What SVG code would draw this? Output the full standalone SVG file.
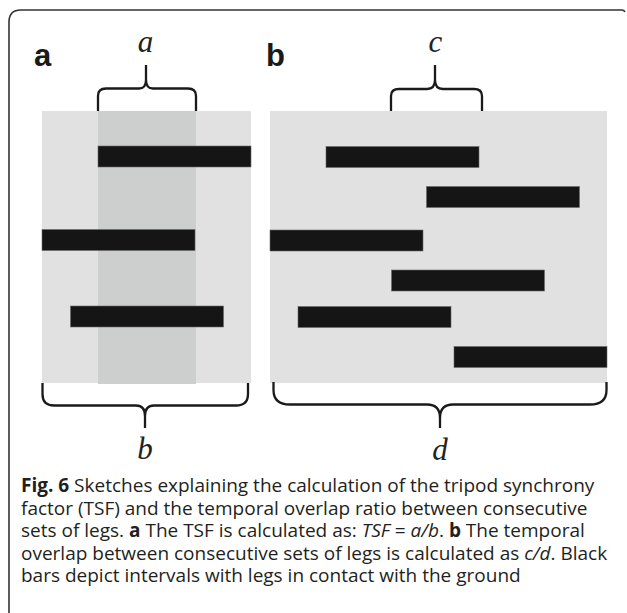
<svg xmlns="http://www.w3.org/2000/svg" width="627" height="613" viewBox="0 0 627 613">
<style>
.bg{fill:#e1e1e1}
.col{fill:#cdcfce}
.bar{fill:#151515;stroke:#6a6a6a;stroke-width:0.6}
.brace{fill:none;stroke:#1a1a1a;stroke-width:2.3;stroke-linejoin:round;stroke-linecap:butt}
.var{font-family:"Liberation Serif","DejaVu Serif",serif;font-style:italic;font-size:31px;fill:#222;text-anchor:middle}
.lbl{font-family:"Liberation Sans",Arial,sans-serif;font-weight:bold;font-size:31px;fill:#1a1a1a}
.cap{font-family:"Open Sans","Noto Sans",sans-serif;font-size:19px;fill:#231f20}
.b{font-weight:bold}
.i{font-style:italic}
</style>
<rect width="627" height="613" fill="#fff"/>
<path id="frame" d="M9,613 V22 Q9,10 21,10 H622 Q624,10 625,12" fill="none" stroke="#333" stroke-width="1.6"/>

<g id="panel-a">
<rect class="bg" x="42" y="111" width="209" height="272"/>
<rect class="col" x="98" y="111" width="98" height="273"/>
<rect class="bar" x="98" y="146" width="153" height="21"/>
<rect class="bar" x="42" y="229.5" width="153" height="21"/>
<rect class="bar" x="70.5" y="306" width="153" height="21"/>
<text class="lbl" x="34" y="66">a</text>
</g>

<g id="panel-b">
<rect class="bg" x="270" y="111" width="337" height="272"/>
<rect class="bar" x="326" y="146.5" width="153" height="21"/>
<rect class="bar" x="426.5" y="186.5" width="153" height="21"/>
<rect class="bar" x="270" y="230" width="153" height="21"/>
<rect class="bar" x="391.5" y="270" width="153" height="21"/>
<rect class="bar" x="298" y="306.5" width="153" height="21"/>
<rect class="bar" x="454" y="346.5" width="153" height="21"/>
<text class="lbl" x="266" y="66">b</text>
</g>

<g id="braces">
<path id="brace-a" class="brace" d="M98,111 V96 Q98,88.5 106,88.5 H139 Q146,88.5 146,80 V65 M146,80 Q146,88.5 153,88.5 H188 Q196,88.5 196,96 V111"/>
<path id="brace-c" class="brace" d="M391,111 V96 Q391,89 399,89 H427 Q435,89 435,80 V65 M435,80 Q435,89 443,89 H474 Q482,89 482,96 V111"/>
<path id="brace-b" class="brace" d="M42.5,383 V394 Q42.5,405.5 54,405.5 H136 Q145,405.5 145,416 V428 M145,416 Q145,405.5 154,405.5 H236 Q248,405.5 248,394 V383"/>
<path id="brace-d" class="brace" d="M273.5,382 V390 Q273.5,404.5 290,404.5 H427 Q440,404.5 440,418 V428 M440,418 Q440,404.5 453,404.5 H590 Q606.5,404.5 606.5,390 V382"/>
</g>

<g id="labels">
<text class="var" x="145.5" y="51.5">a</text>
<text class="var" x="435.5" y="51.5">c</text>
<text class="var" x="145" y="458.5">b</text>
<text class="var" x="440" y="459.5">d</text>
</g>

<g id="caption">
<text class="cap" x="21" y="492"><tspan class="b">Fig. 6</tspan> Sketches explaining the calculation of the tripod synchrony</text>
<text class="cap" x="21" y="514.5">factor (TSF) and the temporal overlap ratio between consecutive</text>
<text class="cap" x="21" y="537">sets of legs. <tspan class="b">a</tspan> The TSF is calculated as: <tspan class="i">TSF</tspan> = <tspan class="i">a/b</tspan>. <tspan class="b">b</tspan> The temporal</text>
<text class="cap" x="21" y="559.5">overlap between consecutive sets of legs is calculated as <tspan class="i">c/d</tspan>. Black</text>
<text class="cap" x="21" y="582">bars depict intervals with legs in contact with the ground</text>
</g>
</svg>
